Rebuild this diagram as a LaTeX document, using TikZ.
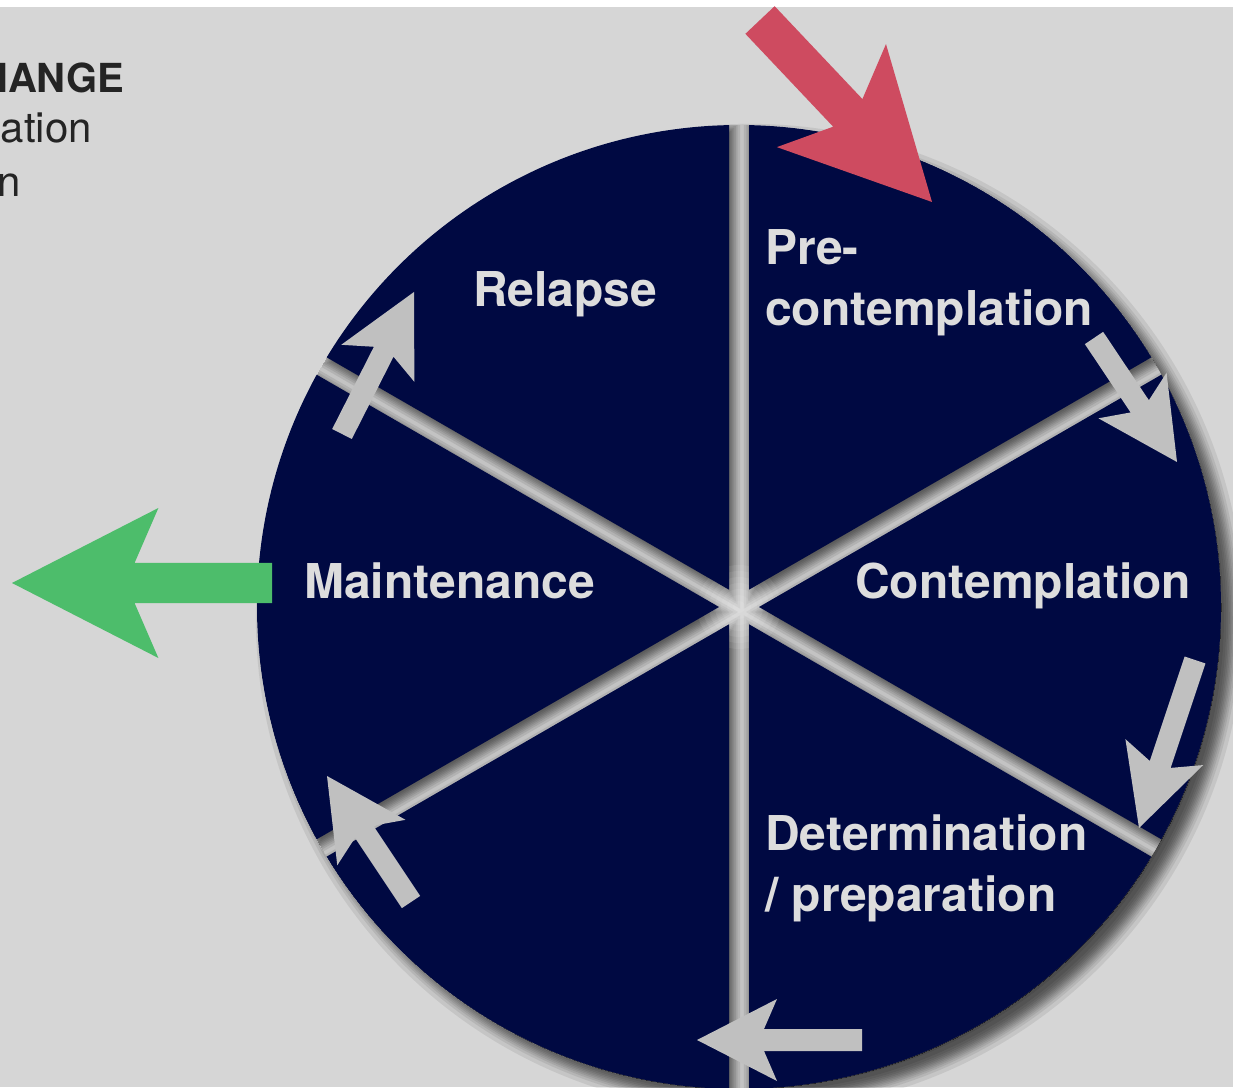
\documentclass[tikz,border=0pt]{standalone}
\usepackage{fontspec}
\setmainfont{TeX Gyre Heros}
\usetikzlibrary{calc}

\definecolor{bggray}{RGB}{214,214,214}
\definecolor{navy}{RGB}{0,9,66}
\definecolor{arrowgray}{RGB}{192,192,192}
\definecolor{redarrow}{RGB}{206,75,96}
\definecolor{greenarrow}{RGB}{77,189,107}
\definecolor{labeltext}{RGB}{221,221,221}
\definecolor{headtext}{RGB}{36,36,36}

% normal quantiles used to build soft (gaussian-like) shadow edges
\newcommand\blurquantiles{-1.732,-1.150,-0.812,-0.549,-0.319,-0.105,0.105,0.319,0.549,0.812,1.150,1.732}

% Block arrow from coordinate #1 to coordinate #2, size factor #3, fill style #4
\newcommand\fatarrow[4]{%
  \pgfpointdiff{\pgfpointanchor{#1}{center}}{\pgfpointanchor{#2}{center}}%
  \pgfgetlastxy{\faDx}{\faDy}%
  \pgfmathsetmacro\faAng{atan2(\faDy,\faDx)}%
  \pgfmathsetmacro\faLen{veclen(\faDx,\faDy)}%
  \begin{scope}[shift={(#1)}, rotate=\faAng]
    \fill[#4] (0,-11*#3) -- ({\faLen-67*#3},-11*#3) -- ({\faLen-80*#3},-41*#3)
      -- (\faLen,0) -- ({\faLen-80*#3},41*#3) -- ({\faLen-67*#3},11*#3)
      -- (0,11*#3) -- cycle;
  \end{scope}}

\begin{document}
\begin{tikzpicture}[x=1pt,y=1pt,
  lbl/.style={inner sep=0pt, text=labeltext, font=\bfseries\fontsize{48}{57}\selectfont},
  headbold/.style={inner sep=0pt, text=headtext, font=\bfseries\fontsize{40}{50}\selectfont},
  headreg/.style={inner sep=0pt, text=headtext, font=\fontsize{42}{50}\selectfont}]
\useasboundingbox (0,0) rectangle (1233,1087);
\fill[white] (0,0) rectangle (1233,1087);
\fill[bggray] (0,0) rectangle (1233,1080);

% heading, partly running off the left edge
\node[headbold, anchor=base west] (h1) at (-21,994) {HANGE};
\node[headreg, anchor=base east] (h2) at (92,944) {ation};
\node[headreg, anchor=base east] (h3) at (21,890) {n};

\begin{scope}[shift={(739,480)}]
  % soft shadow of the whole disc
  \foreach \z in \blurquantiles{
    \fill[black, opacity=0.08] (11,-11) circle[radius={482+7*\z}];
  }
  \fill[bggray] (0,0) circle[radius=482];
  % shadows that the wedges cast into the gaps between them
  \begin{scope}
    \clip (0,0) circle[radius=482];
    \foreach \z in \blurquantiles{
      \pgfmathsetmacro\gg{10-7*\z}
      \pgfmathsetmacro\rr{482+7*\z}
      \pgfmathsetmacro\ap{2*\gg}
      \pgfmathsetmacro\de{asin(\gg/\rr)}
      \begin{scope}[transparency group, opacity=0.085]
        \foreach \a in {30,90,...,330}{
          \fill[black, shift={(3,-5)}] (\a+30:\ap) -- (\a+\de:\rr)
            arc[start angle=\a+\de, end angle=\a+60-\de, radius=\rr] -- cycle;
        }
      \end{scope}
    }
    % light glow where the gaps meet
    \foreach \r in {6,12,...,42}{
      \fill[white, opacity=0.08] (0,0) circle[radius=\r];
    }
  \end{scope}
  % the six wedges
  \foreach \a in {30,90,...,330}{
    \fill[navy] (\a+30:20) -- (\a+1.19:482)
      arc[start angle=\a+1.19, end angle=\a+58.81, radius=482] -- cycle;
  }
\end{scope}

% stage labels
\node[lbl, anchor=base west] (relapse) at (473,780) {Relapse};
\node[lbl, anchor=base west] (pre1) at (765,822) {Pre-};
\node[lbl, anchor=base west] (pre2) at (765,761) {contemplation};
\node[lbl, anchor=base west] (contemplation) at (855,488) {Contemplation};
\node[lbl, anchor=base west] (maintenance) at (304,488) {Maintenance};
\node[lbl, anchor=base west] (det1) at (765,237) {Determination};
\node[lbl, anchor=base west] (det2) at (765,176) {/ preparation};

% arrow end points
\coordinate (redS) at (760,1067);   \coordinate (redT) at (932,885);
\coordinate (greenS) at (272,504);  \coordinate (greenT) at (12,504);
\coordinate (g1S) at (342,653);     \coordinate (g1T) at (414,795);
\coordinate (g2S) at (1094,749);    \coordinate (g2T) at (1177,625);
\coordinate (g3S) at (1195,427);    \coordinate (g3T) at (1139,259);
\coordinate (g4S) at (862,47);      \coordinate (g4T) at (697,47);
\coordinate (g5S) at (411,185);     \coordinate (g5T) at (327,311);

\fatarrow{redS}{redT}{1.83}{redarrow}
\fatarrow{greenS}{greenT}{1.83}{greenarrow}
\fatarrow{g1S}{g1T}{1}{arrowgray}
\fatarrow{g2S}{g2T}{1}{arrowgray}
\fatarrow{g3S}{g3T}{1}{arrowgray}
\fatarrow{g4S}{g4T}{1}{arrowgray}
\fatarrow{g5S}{g5T}{1}{arrowgray}
\end{tikzpicture}
\end{document}
